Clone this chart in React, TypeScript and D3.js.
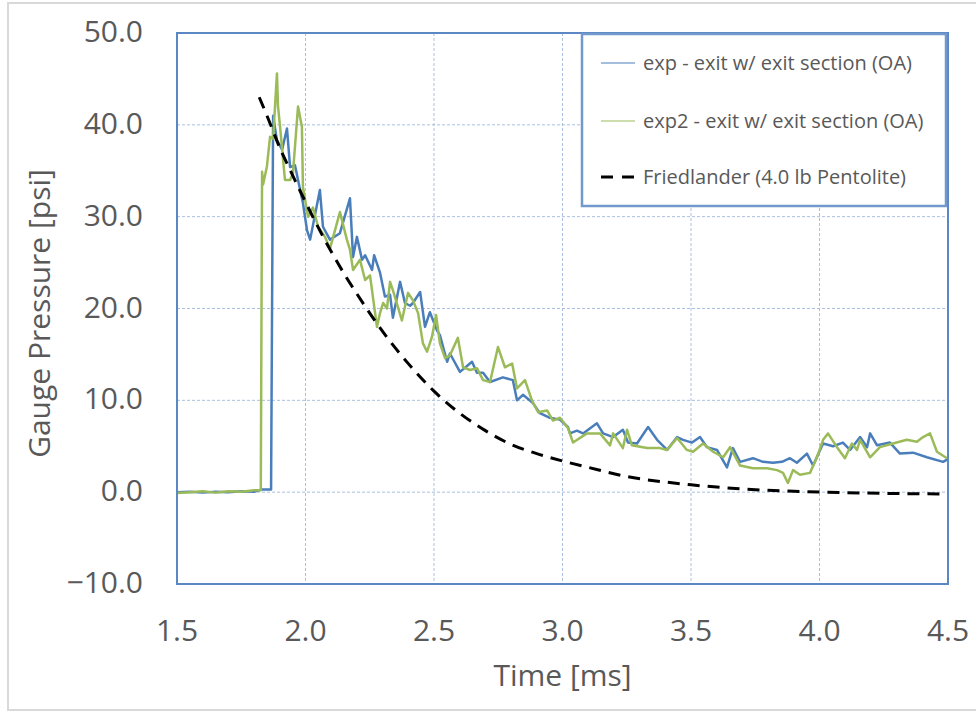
import React from "react";
import * as d3 from "d3";

// ---- Data (time in ms, gauge pressure in psi) ----
const expSeries: [number, number][] = [
  [1.5, 0.0], [1.55, 0.05], [1.6, -0.05], [1.65, 0.05], [1.7, 0.0], [1.75, 0.1], [1.8, 0.05],
  [1.83, 0.3], [1.866, 0.3], [1.874, 41.0], [1.889, 38.3], [1.909, 37.3], [1.928, 39.6],
  [1.94, 35.4], [1.959, 35.6], [1.971, 34.0], [1.99, 31.5], [2.006, 28.5], [2.018, 27.5],
  [2.056, 32.9], [2.068, 28.9], [2.095, 27.5], [2.134, 28.2], [2.173, 32.0], [2.185, 25.6],
  [2.2, 27.8], [2.22, 25.3], [2.232, 25.8], [2.259, 24.2], [2.267, 25.8], [2.29, 23.9],
  [2.309, 21.3], [2.329, 21.5], [2.34, 19.0], [2.368, 22.9], [2.387, 20.6], [2.407, 20.3],
  [2.418, 20.6], [2.446, 21.8], [2.465, 18.0], [2.484, 19.6], [2.512, 17.6], [2.523, 17.1],
  [2.551, 14.2], [2.562, 15.1], [2.601, 13.1], [2.648, 14.2], [2.667, 13.0], [2.691, 13.0],
  [2.718, 12.0], [2.768, 12.5], [2.807, 12.2], [2.823, 10.0], [2.846, 10.6], [2.885, 9.7],
  [2.912, 8.6], [2.951, 8.1], [2.99, 7.9], [3.021, 7.1], [3.029, 6.4], [3.056, 6.7],
  [3.08, 6.4], [3.134, 7.5], [3.158, 6.4], [3.197, 6.0], [3.235, 6.8], [3.255, 5.4],
  [3.29, 5.3], [3.333, 7.1], [3.368, 5.7], [3.407, 4.6], [3.446, 6.0], [3.469, 5.7],
  [3.504, 5.4], [3.535, 6.0], [3.562, 4.9], [3.601, 4.6], [3.64, 2.7], [3.663, 4.8],
  [3.691, 3.3], [3.741, 3.7], [3.78, 3.3], [3.819, 3.2], [3.854, 3.3], [3.885, 3.7],
  [3.912, 3.2], [3.951, 4.2], [3.975, 2.9], [4.014, 5.3], [4.053, 5.0], [4.091, 5.4],
  [4.119, 4.6], [4.158, 6.0], [4.185, 4.9], [4.197, 6.4], [4.224, 5.1], [4.274, 5.4],
  [4.313, 4.2], [4.364, 4.3], [4.418, 3.8], [4.481, 3.3], [4.5, 3.6],
];

const exp2Series: [number, number][] = [
  [1.5, -0.1], [1.55, 0.0], [1.6, 0.1], [1.65, -0.05], [1.7, 0.1], [1.75, 0.05], [1.8, 0.2],
  [1.826, 0.2], [1.831, 34.9], [1.835, 33.5], [1.85, 35.5], [1.862, 38.7], [1.874, 38.5],
  [1.889, 45.6], [1.893, 42.0], [1.901, 39.8], [1.92, 34.0], [1.94, 34.0], [1.951, 34.7],
  [1.971, 42.0], [1.986, 39.8], [1.99, 33.2], [2.01, 30.0], [2.029, 31.0], [2.049, 28.9],
  [2.076, 27.8], [2.095, 26.5], [2.134, 30.5], [2.161, 27.5], [2.173, 26.4], [2.185, 24.2],
  [2.212, 25.3], [2.232, 23.1], [2.251, 23.6], [2.278, 18.0], [2.29, 19.5], [2.302, 20.6],
  [2.317, 20.0], [2.329, 22.9], [2.34, 22.0], [2.375, 18.7], [2.399, 21.7], [2.418, 20.9],
  [2.438, 19.5], [2.457, 16.2], [2.473, 15.3], [2.492, 16.9], [2.508, 19.3], [2.523, 16.2],
  [2.543, 14.6], [2.562, 14.9], [2.593, 16.8], [2.613, 13.6], [2.64, 13.3], [2.667, 13.5],
  [2.691, 12.2], [2.718, 12.0], [2.749, 15.8], [2.776, 13.6], [2.804, 14.0], [2.823, 11.3],
  [2.854, 12.2], [2.881, 10.0], [2.905, 8.7], [2.94, 8.9], [2.963, 7.8], [2.99, 8.1],
  [3.021, 7.0], [3.041, 5.4], [3.095, 6.4], [3.146, 6.4], [3.185, 5.1], [3.197, 6.4],
  [3.235, 4.8], [3.251, 6.8], [3.27, 5.1], [3.329, 4.8], [3.379, 4.8], [3.407, 4.6],
  [3.446, 5.9], [3.484, 4.6], [3.508, 4.4], [3.547, 5.3], [3.586, 4.4], [3.625, 3.8],
  [3.652, 4.9], [3.691, 2.9], [3.741, 2.6], [3.796, 2.6], [3.835, 2.4], [3.858, 2.1],
  [3.877, 1.0], [3.897, 2.4], [3.924, 1.9], [3.963, 2.1], [3.99, 3.8], [4.014, 5.7],
  [4.033, 6.4], [4.068, 4.9], [4.099, 3.7], [4.126, 5.3], [4.146, 4.6], [4.158, 5.7],
  [4.197, 3.8], [4.235, 4.9], [4.286, 5.3], [4.34, 5.7], [4.379, 5.5], [4.403, 6.0],
  [4.43, 6.4], [4.457, 4.4], [4.496, 3.7],
];

const friedlanderSeries: [number, number][] = [
  [1.82, 43.0], [1.85, 41.0], [1.9, 37.5], [1.95, 34.5], [2.0, 31.6], [2.05, 28.8],
  [2.1, 26.2], [2.15, 23.8], [2.2, 21.6], [2.3, 17.5], [2.4, 14.0], [2.5, 11.0],
  [2.6, 8.6], [2.7, 6.7], [2.8, 5.2], [2.9, 4.2], [3.0, 3.4], [3.1, 2.7], [3.25, 1.7],
  [3.4, 1.1], [3.5, 0.8], [3.7, 0.35], [3.9, 0.1], [4.1, -0.05], [4.3, -0.15], [4.5, -0.2],
];

const xTicks = [1.5, 2.0, 2.5, 3.0, 3.5, 4.0, 4.5];
const yTicks = [-10, 0, 10, 20, 30, 40, 50];

const legendLabels = [
  "exp - exit w/ exit section (OA)",
  "exp2 - exit w/ exit section (OA)",
  "Friedlander (4.0 lb Pentolite)",
];

const xTitle = "Time [ms]";
const yTitle = "Gauge Pressure [psi]";

// ---- Layout ----
const W = 976;
const H = 712;
const PL = 177;
const PR = 948;
const PT = 33;
const PB = 584;

const BLUE = "#4A7EBB";
const GREEN = "#9BBB59";
const TEXT = "#595959";
const FONT = "'Open Sans', 'Noto Sans', sans-serif";

export default function App() {
  const x = d3.scaleLinear().domain([1.5, 4.5]).range([PL, PR]);
  const y = d3.scaleLinear().domain([-10, 50]).range([PB, PT]);
  const line = d3
    .line<[number, number]>()
    .x((d) => x(d[0]))
    .y((d) => y(d[1]));
  const smooth = d3
    .line<[number, number]>()
    .x((d) => x(d[0]))
    .y((d) => y(d[1]))
    .curve(d3.curveMonotoneX);
  const fmt = d3.format(".1f");

  const legendX = 582;
  const legendY = 34;
  const legendW = 364;
  const legendH = 172;
  const rows = [63, 121, 177];

  return (
    <svg
      width={W}
      height={H}
      style={{ position: "absolute", left: 0, top: 0, background: "#fff" }}
      fontFamily={FONT}
    >
      <rect x={8} y={3} width={1000} height={707} fill="#fff" stroke="#D9D9D9" strokeWidth={2} />
      <defs>
        <clipPath id="plotClip">
          <rect x={PL} y={PT} width={PR - PL} height={PB - PT} />
        </clipPath>
      </defs>

      {/* grid */}
      <g stroke="#A9C0E0" strokeWidth={1} strokeDasharray="3,2">
        {yTicks.map((t) => (
          <line key={"gy" + t} x1={PL} x2={PR} y1={y(t)} y2={y(t)} />
        ))}
        {xTicks.map((t) => (
          <line key={"gx" + t} x1={x(t)} x2={x(t)} y1={PT} y2={PB} />
        ))}
      </g>

      {/* series */}
      <g clipPath="url(#plotClip)" fill="none">
        <path d={line(expSeries) || ""} stroke={BLUE} strokeWidth={2.5} strokeLinejoin="round" />
        <path d={line(exp2Series) || ""} stroke={GREEN} strokeWidth={2.5} strokeLinejoin="round" />
        <path
          d={smooth(friedlanderSeries) || ""}
          stroke="#000"
          strokeWidth={3}
          strokeDasharray="12,8"
        />
      </g>

      {/* plot border */}
      <rect x={PL} y={PT} width={PR - PL} height={PB - PT} fill="none" stroke="#5B87C5" strokeWidth={2} />

      {/* y tick labels */}
      {yTicks.map((t) => (
        <text
          key={"yl" + t}
          x={143}
          y={y(t)}
          dy="0.3em"
          textAnchor="end"
          fontSize={30}
          fill={TEXT}
        >
          {fmt(t)}
        </text>
      ))}

      {/* x tick labels */}
      {xTicks.map((t) => (
        <text key={"xl" + t} x={x(t)} y={641} textAnchor="middle" fontSize={30} fill={TEXT}>
          {fmt(t)}
        </text>
      ))}

      {/* axis titles */}
      <text x={(PL + PR) / 2} y={686} textAnchor="middle" fontSize={30} fill={TEXT}>
        {xTitle}
      </text>
      <text
        transform={`translate(50, ${(PT + PB) / 2 + 5}) rotate(-90)`}
        textAnchor="middle"
        fontSize={30}
        fill={TEXT}
      >
        {yTitle}
      </text>

      {/* legend */}
      <rect x={legendX} y={legendY} width={legendW} height={legendH} fill="#fff" stroke="#7399CC" strokeWidth={2.5} />
      <line x1={601} x2={635} y1={rows[0]} y2={rows[0]} stroke={BLUE} strokeWidth={1.2} />
      <line x1={601} x2={635} y1={rows[1]} y2={rows[1]} stroke={GREEN} strokeWidth={1.2} />
      <line x1={601} x2={635} y1={rows[2]} y2={rows[2]} stroke="#000" strokeWidth={3} strokeDasharray="12,9" />
      {legendLabels.map((l, i) => (
        <text key={l} x={643} y={rows[i]} dy="0.35em" fontSize={20} fill={TEXT}>
          {l}
        </text>
      ))}
    </svg>
  );
}
